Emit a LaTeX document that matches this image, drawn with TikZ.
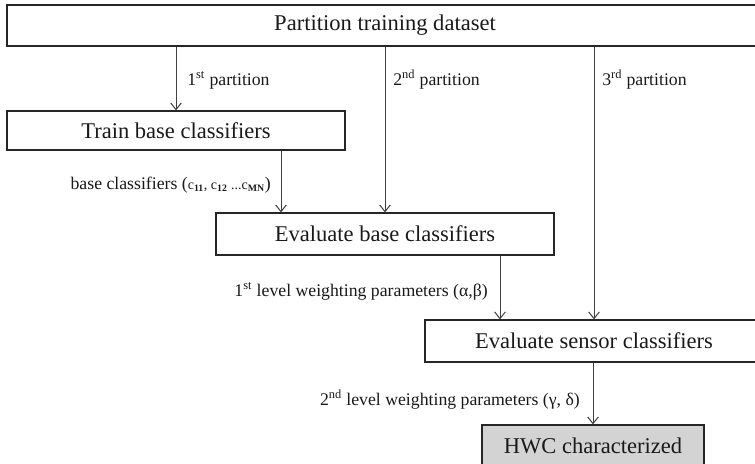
\documentclass[tikz,border=0pt]{standalone}
\usepackage{fontspec}
\setmainfont{Liberation Serif}
\usetikzlibrary{arrows.meta}
\definecolor{hwcfill}{RGB}{211,211,211}
\begin{document}
\begin{tikzpicture}[x=0.75pt,y=-0.75pt,
  box/.style={draw=black!85, line width=0.9pt, inner sep=0pt, text=black!90,
    font=\fontsize{16.9}{20}\selectfont},
  lab/.style={inner sep=0pt, text=black!90, font=\fontsize{13.3}{16}\selectfont},
  arr/.style={draw=black!75, line width=0.75pt, -{Straight Barb[length=5pt,width=8pt]}}]
\useasboundingbox (0,0) rectangle (755,463);
\node[box, minimum width=567pt, minimum height=30.75pt] (top) at (385,25.5) {Partition training dataset};
\node[box, minimum width=253.5pt, minimum height=29.25pt] (train) at (176,130.5) {Train base classifiers};
\node[box, minimum width=253.5pt, minimum height=31.5pt] (eb) at (385,234) {Evaluate base classifiers};
\node[box, minimum width=253.5pt, minimum height=31.5pt] (sens) at (594,341) {Evaluate sensor classifiers};
\node[box, fill=hwcfill, minimum width=166.5pt, minimum height=30.75pt] (hwc) at (593,445.5) {HWC characterized};
\coordinate (x1) at (176,0);
\coordinate (x2) at (385,0);
\coordinate (x3) at (594,0);
\coordinate (x4) at (281,0);
\coordinate (x5) at (500,0);
\draw[arr] (top.south -| x1) -- (train.north -| x1);
\draw[arr] (top.south -| x2) -- (eb.north -| x2);
\draw[arr] (top.south -| x3) -- (sens.north -| x3);
\draw[arr] (train.south -| x4) -- (eb.north -| x4);
\draw[arr] (eb.south -| x5) -- (sens.north -| x5);
\draw[arr] (sens.south -| hwc.north) -- (hwc.north);
\node[lab, anchor=west] (l1) at (187,80) {1\textsuperscript{st} partition};
\node[lab, anchor=west] (l2) at (393,80) {2\textsuperscript{nd} partition};
\node[lab, anchor=west] (l3) at (602,80) {3\textsuperscript{rd} partition};
\node[lab, anchor=east] (l4) at (271,185) {base classifiers ({\fontsize{10.5}{12}\selectfont c\textsubscript{\textbf{11}}, c\textsubscript{\textbf{12}} ...c\textsubscript{\textbf{MN}}})};
\node[lab, anchor=east] (l5) at (488,291) {1\textsuperscript{st} level weighting parameters (α,β)};
\node[lab, anchor=east] (l6) at (580,400) {2\textsuperscript{nd} level weighting parameters (γ, δ)};
\end{tikzpicture}
\end{document}
